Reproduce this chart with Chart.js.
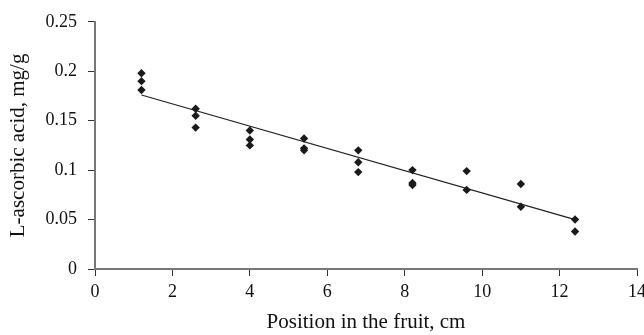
<!DOCTYPE html>
<html>
<head>
<meta charset="utf-8">
<script src="https://cdn.jsdelivr.net/npm/chart.js@4/dist/chart.umd.min.js"></script>
<style>
  html, body { margin: 0; padding: 0; background: #fff; }
  #wrap { width: 644px; height: 335px; }
</style>
</head>
<body>
<div id="wrap"><canvas id="scatterVitC"></canvas></div>
<script>
var positions = [1.2, 1.2, 1.2, 2.6, 2.6, 2.6, 4.0, 4.0, 4.0, 5.4, 5.4, 5.4,
                 6.8, 6.8, 6.8, 8.2, 8.2, 8.2, 9.6, 9.6, 11.0, 11.0, 12.4, 12.4];
var ascorbic = [0.198, 0.190, 0.181, 0.162, 0.155, 0.143, 0.140, 0.131, 0.125, 0.132, 0.122, 0.120,
                0.120, 0.108, 0.098, 0.100, 0.087, 0.085, 0.099, 0.080, 0.086, 0.063, 0.050, 0.038];
// linear trend line ends
var trendX = [1.2, 12.4];
var trendY = [0.176, 0.050];
var yTickLabels = ['0', '0.05', '0.1', '0.15', '0.2', '0.25'];

var pts = [];
for (var i = 0; i < positions.length; i++) {
    pts.push({x: positions[i], y: ascorbic[i]});
}
var trend = [];
for (var j = 0; j < trendX.length; j++) {
    trend.push({x: trendX[j], y: trendY[j]});
}

var serif = "'Liberation Serif', 'DejaVu Serif', serif";

var ctx = document.getElementById("scatterVitC");
var chart = new Chart(ctx, {
    type: 'scatter',
    data: {
        datasets: [
            {
                label: 'measured',
                data: pts,
                pointStyle: 'rectRot',
                pointRadius: 4.2,
                backgroundColor: '#1a1a1a',
                borderColor: '#1a1a1a',
                borderWidth: 0
            },
            {
                label: 'trend',
                type: 'line',
                data: trend,
                showLine: true,
                borderColor: '#222',
                borderWidth: 1.2,
                pointRadius: 0,
                fill: false
            }
        ]
    },
    options: {
        responsive: true,
        maintainAspectRatio: false,
        animation: false,
        layout: { padding: { top: 20, right: 0, left: 0, bottom: 0 } },
        plugins: { legend: { display: false }, tooltip: { enabled: false } },
        scales: {
            x: {
                type: 'linear',
                min: 0, max: 14,
                ticks: { stepSize: 2, color: '#111', font: { family: serif, size: 18 }, padding: 5, maxRotation: 0 },
                grid: { drawOnChartArea: false, color: '#333', tickLength: 7 },
                border: { color: '#777', width: 2 },
                title: { display: true, text: 'Position in the fruit, cm', color: '#111',
                         font: { family: serif, size: 21 }, padding: { top: 4, bottom: 0 } },
                afterFit: function(scale) {
                    scale.height = 66;
                    scale.paddingRight = 7;
                }
            },
            y: {
                min: 0, max: 0.25,
                ticks: {
                    stepSize: 0.05, color: '#111', font: { family: serif, size: 18 }, padding: 11,
                    callback: function(value) { return yTickLabels[Math.round(value / 0.05)]; }
                },
                grid: { drawOnChartArea: false, color: '#333', tickLength: 7 },
                border: { color: '#777', width: 2 },
                title: { display: true, text: 'L-ascorbic acid, mg/g', color: '#111',
                         font: { family: serif, size: 21 }, padding: { top: 6, bottom: 4 } },
                afterFit: function(scale) { scale.width = 95; }
            }
        }
    }
});
</script>
</body>
</html>
